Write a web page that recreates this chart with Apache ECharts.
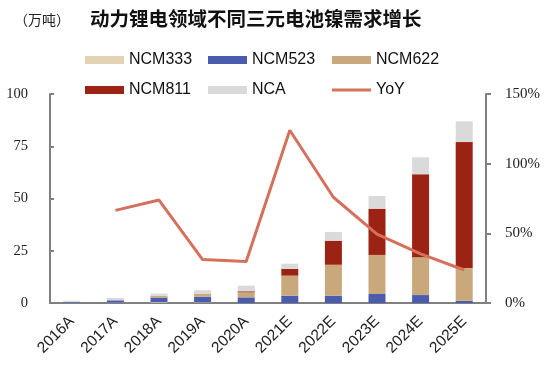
<!DOCTYPE html>
<html><head><meta charset="utf-8">
<script src="https://cdn.jsdelivr.net/npm/echarts@6/dist/echarts.min.js"></script>
<style>html,body{margin:0;padding:0;background:#fff}#c{width:547px;height:373px}</style>
</head><body><div id="c"></div>
<script>
const categories = ['2016A','2017A','2018A','2019A','2020A','2021E','2022E','2023E','2024E','2025E'];
const ncm333 = [0.0, 0.2, 0.4, 0.3, 0.0, 0.0, 0.0, 0.0, 0.0, 0.0];
const ncm523 = [0.4, 1.1, 2.2, 2.7, 2.7, 3.5, 3.5, 4.3, 3.8, 1.1];
const ncm622 = [0.0, 0.0, 0.8, 1.3, 2.4, 9.6, 14.8, 18.7, 18.1, 15.6];
const ncm811 = [0.0, 0.0, 0.0, 0.0, 0.5, 3.2, 11.5, 22.1, 39.7, 60.3];
const nca    = [0.7, 1.1, 1.1, 1.8, 2.7, 2.5, 4.2, 6.1, 8.1, 9.9];
const yoy    = [null, 66.5, 73.9, 31.2, 29.8, 124, 75.9, 49.5, 35.2, 23.7];
const leftTicks = [0, 25, 50, 75, 100];
const rightTicks = [0, 50, 100, 150];
const legendNames = ['NCM333','NCM523','NCM622','NCM811','NCA','YoY'];

const colors = {NCM333:'#E3D2B4', NCM523:'#4B5CAF', NCM622:'#C9A97B', NCM811:'#9C2213', NCA:'#DADADA', YoY:'#D5705D'};
const serif = '"Liberation Serif","DejaVu Serif",serif';
const sans = '"Liberation Sans",Arial,sans-serif';

function barSeries(name, data){
  return {name, type:'bar', stack:'total', data, barWidth:17,
    itemStyle:{color:colors[name]}, yAxisIndex:0};
}
const lineIcon = 'path://M0,0 L40,0 L40,3 L0,3 Z';
const colX = [85, 208, 332];
const rowY = [52, 82];
const legends = legendNames.map((n, i) => ({
  left: colX[i % 3], top: rowY[Math.floor(i / 3)], padding:0,
  itemWidth:39, itemHeight:8, itemGap:4, icon: n === 'YoY' ? lineIcon : 'rect',
  textStyle:{fontFamily:sans, fontSize:16, color:'#111'},
  data:[n]
}));
const chart = echarts.init(document.getElementById('c'), null, {renderer:'canvas'});
chart.setOption({
  animation:false,
  title:[
    {text:'（万吨）', left:9, top:8, textStyle:{fontFamily:'"Noto Sans CJK SC",sans-serif', fontSize:14, fontWeight:'normal', color:'#222'}},
    {text:'动力锂电领域不同三元电池镍需求增长', left:85, top:4, textStyle:{fontFamily:'"Noto Sans CJK SC",sans-serif', fontSize:19.5, fontWeight:'bold', color:'#111'}}
  ],
  legend: legends,
  grid:{left:50, right:61, top:94, bottom:70},
  xAxis:{type:'category', data:categories,
    axisLine:{lineStyle:{color:'#808080', width:2}},
    axisTick:{inside:true, length:5, lineStyle:{color:'#808080', width:2}},
    axisLabel:{rotate:45, fontFamily:sans, fontSize:15.5, color:'#222', margin:16, interval:0}},
  yAxis:[
    {type:'value', min:0, max:100, interval:25,
      axisLine:{show:true, lineStyle:{color:'#808080', width:2}},
      axisTick:{show:true, inside:true, length:4, lineStyle:{color:'#808080', width:2}},
      splitLine:{show:false},
      axisLabel:{fontFamily:serif, fontSize:14.5, color:'#222', margin:22}},
    {type:'value', min:0, max:150, interval:50, position:'right',
      axisLine:{show:true, lineStyle:{color:'#808080', width:2}},
      axisTick:{show:true, inside:false, length:5, lineStyle:{color:'#808080', width:2}},
      splitLine:{show:false},
      axisLabel:{fontFamily:serif, fontSize:15, color:'#222', margin:19, formatter:'{value}%'}}
  ],
  series:[
    barSeries('NCM333', ncm333),
    barSeries('NCM523', ncm523),
    barSeries('NCM622', ncm622),
    barSeries('NCM811', ncm811),
    barSeries('NCA', nca),
    {name:'YoY', type:'line', yAxisIndex:1, data:yoy, symbol:'none',
      lineStyle:{color:colors.YoY, width:3}, itemStyle:{color:colors.YoY}}
  ]
});
</script></body></html>
